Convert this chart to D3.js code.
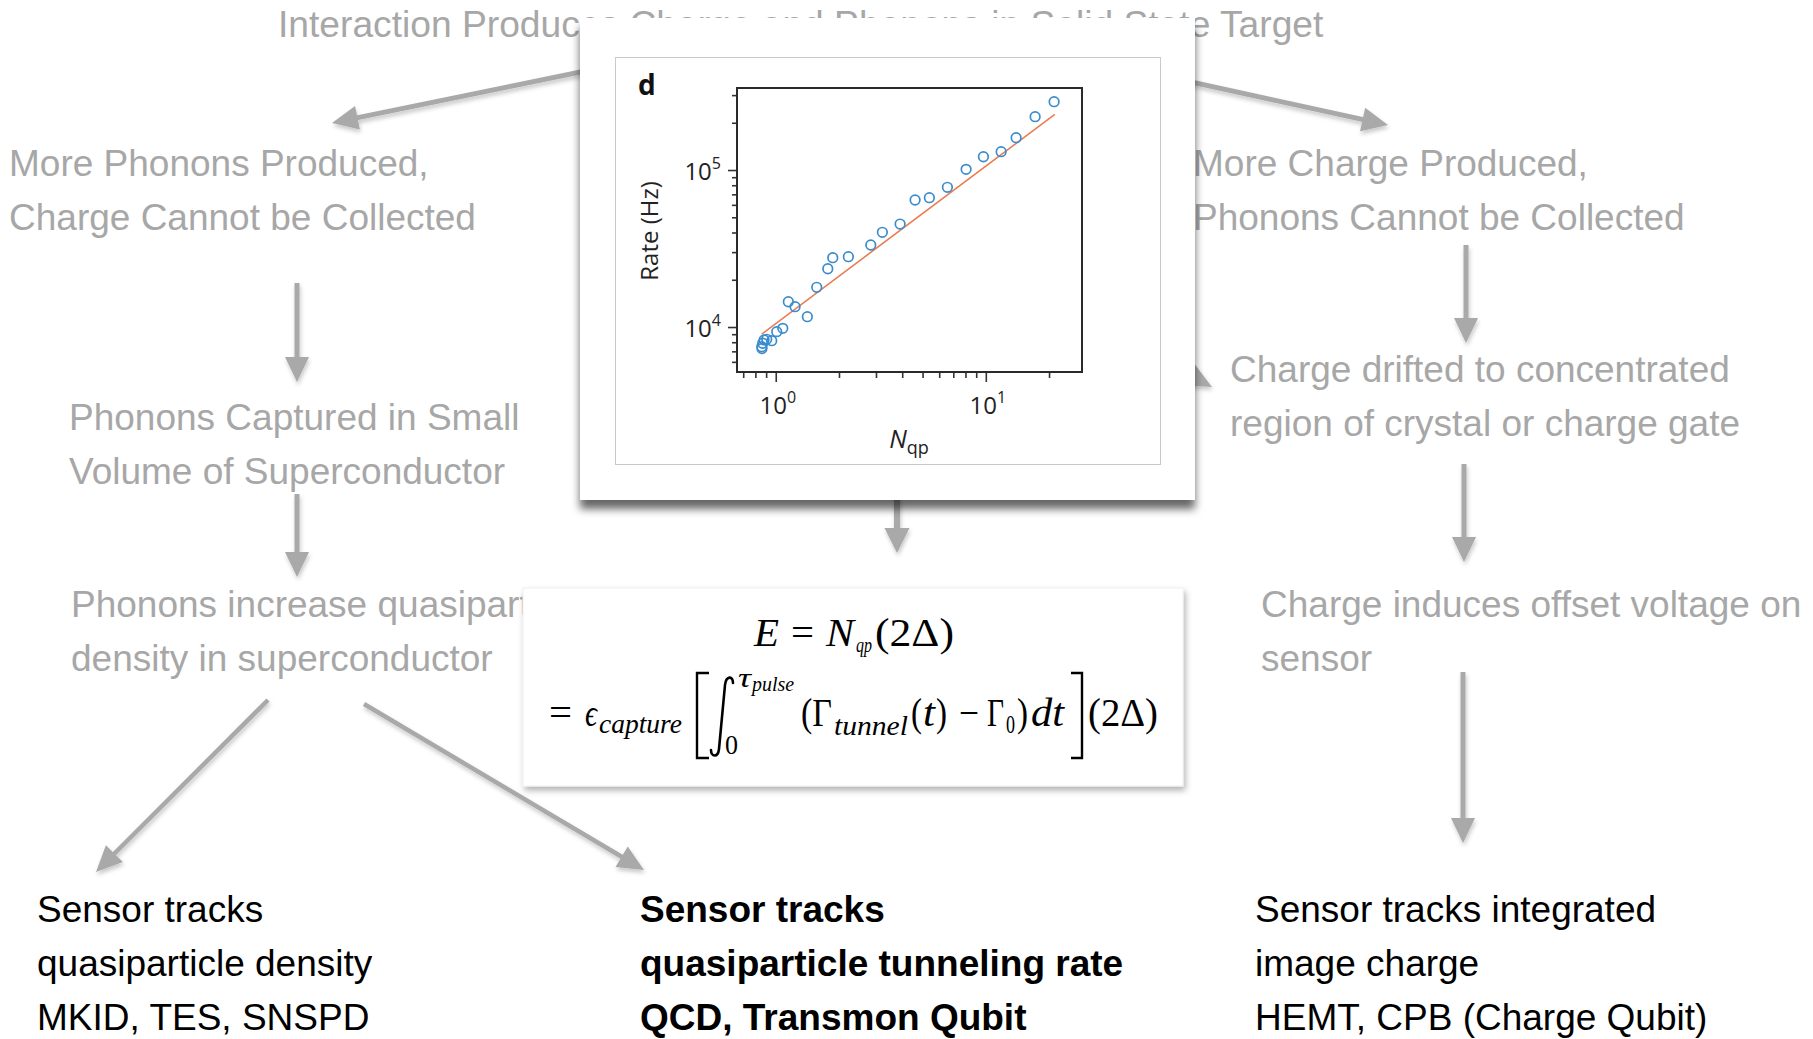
<!DOCTYPE html>
<html><head><meta charset="utf-8">
<script src="https://cdn.jsdelivr.net/npm/d3@7"></script>
<style>
html,body{margin:0;padding:0;background:#fff;}
svg{display:block;}
</style></head>
<body>
<svg id="fig" width="1813" height="1039"></svg>
<script>
// Measured quasiparticle number vs. tunneling rate (panel d)
const nqp  = [0.860, 0.858, 0.867, 0.880, 0.906, 0.957, 1.011, 1.080, 1.148, 1.236, 1.414, 1.567, 1.769, 1.868, 2.217, 2.834, 3.218, 3.908, 4.606, 5.387, 6.564, 8.058, 9.74, 11.83, 13.94, 17.17, 21.14];
const rate = [7300, 7490, 7880, 8270, 8350, 8180, 9340, 9810, 14490, 13470, 11630, 17900, 23510, 27630, 28040, 33290, 40110, 45290, 64420, 66630, 77610, 101000, 121500, 130800, 160600, 218600, 272300];
// linear fit endpoints
const fitNqp  = [0.858, 21.3];
const fitRate = [9020, 226000];
// axis ticks
const xTickValues = [0.7, 0.8, 0.9, 1, 2, 3, 4, 5, 6, 7, 8, 9, 10, 20];
const yTickValues = [6000, 7000, 8000, 9000, 1e4, 2e4, 3e4, 4e4, 5e4, 6e4, 7e4, 8e4, 9e4, 1e5, 2e5, 3e5];
const xMajor = [1, 10];
const yMajor = [1e4, 1e5];

// flow diagram text
const titleText = "Interaction Produces Charge and Phonons in Solid State Target";
const phononSteps = [
  ["More Phonons Produced,", "Charge Cannot be Collected"],
  ["Phonons Captured in Small", "Volume of Superconductor"],
  ["Phonons increase quasiparticle", "density in superconductor"]
];
const chargeSteps = [
  ["More Charge Produced,", "Phonons Cannot be Collected"],
  ["Charge drifted to concentrated", "region of crystal or charge gate"],
  ["Charge induces offset voltage on", "sensor"]
];
const sensorTypes = [
  ["Sensor tracks", "quasiparticle density", "MKID, TES, SNSPD"],
  ["Sensor tracks", "quasiparticle tunneling rate", "QCD, Transmon Qubit"],
  ["Sensor tracks integrated", "image charge", "HEMT, CPB (Charge Qubit)"]
];

const svg = d3.select("#fig");
const defs = svg.append("defs");
function dropShadow(id, dx, dy, sd, op) {
  const f = defs.append("filter").attr("id", id)
    .attr("x", "-10%").attr("y", "-10%").attr("width", "125%").attr("height", "135%");
  f.append("feDropShadow").attr("dx", dx).attr("dy", dy).attr("stdDeviation", sd)
    .attr("flood-color", "#000").attr("flood-opacity", op);
}
dropShadow("arrowShadow", 1, 3, 2, 0.22);
dropShadow("plotCardShadow", 0, 9, 4, 0.6);
dropShadow("eqCardShadow", 2, 4, 3, 0.3);

const SANS = "'Liberation Sans', Arial, Helvetica, sans-serif";
const GRAY = "#a7a7a7";
const FS = 37, LH = 54;

function block(lines, x, y, color, weight) {
  const t = svg.append("text").attr("font-family", SANS).attr("font-size", FS)
    .attr("fill", color).attr("font-weight", weight || "normal");
  lines.forEach((l, i) => t.append("tspan").attr("x", x).attr("y", y + i * LH).text(l));
}

// title (sits behind the plot card)
svg.append("text").attr("x", 278).attr("y", 37).attr("font-family", SANS)
  .attr("font-size", 37.2).attr("fill", GRAY).text(titleText);

const phononPos = [[9, 176], [69, 430], [71, 617]];
const chargePos = [[1193, 176], [1230, 382], [1261, 617]];
phononSteps.forEach((s, i) => block(s, phononPos[i][0], phononPos[i][1], GRAY));
chargeSteps.forEach((s, i) => block(s, chargePos[i][0], chargePos[i][1], GRAY));

// arrows
function arrow(x1, y1, x2, y2, w, L, W) {
  const dx = x2 - x1, dy = y2 - y1, len = Math.hypot(dx, dy);
  const ux = dx / len, uy = dy / len, nx = -uy, ny = ux;
  const bx = x2 - ux * L, by = y2 - uy * L;
  const g = svg.append("g").attr("filter", "url(#arrowShadow)");
  g.append("line").attr("x1", x1).attr("y1", y1).attr("x2", bx + ux * 2).attr("y2", by + uy * 2)
    .attr("stroke", "#a9a9a9").attr("stroke-width", w);
  g.append("path").attr("fill", "#a9a9a9")
    .attr("d", `M${x2},${y2}L${bx + nx * W / 2},${by + ny * W / 2}L${bx - nx * W / 2},${by - ny * W / 2}Z`);
}
arrow(639, 60, 332, 123, 5, 26, 24);
arrow(1100, 62, 1388, 125, 5, 26, 24);
arrow(297, 283, 297, 382, 5, 25, 24);
arrow(297, 494, 297, 577, 5, 25, 24);
arrow(268, 700, 96, 872, 4.5, 26, 24);
arrow(364, 704, 644, 870, 4.5, 26, 24);
arrow(897, 470, 897, 553, 6, 25, 25);
arrow(1466, 245, 1466, 343, 5, 25, 24);
arrow(1464, 464, 1464, 562, 5, 25, 24);
arrow(1463, 672, 1463, 843, 5, 25, 24);
arrow(1120, 338, 1212, 387, 5, 26, 24);

// sensor outcomes
const sensorPos = [[37, 922], [640, 922], [1255, 922]];
sensorTypes.forEach((s, i) => block(s, sensorPos[i][0], sensorPos[i][1], "#000", i === 1 ? "bold" : "normal"));

// ---- plot card ----
svg.append("rect").attr("x", 580).attr("y", 18).attr("width", 615).attr("height", 482)
  .attr("fill", "#fff").attr("filter", "url(#plotCardShadow)");
svg.append("rect").attr("x", 615.5).attr("y", 57.5).attr("width", 545).attr("height", 407)
  .attr("fill", "#fff").attr("stroke", "#c9c9c9").attr("stroke-width", 1);

const plot = { left: 737, top: 88, right: 1082, bottom: 372 };
const x = d3.scaleLog().domain([0.654, 28.7]).range([plot.left, plot.right]);
const y = d3.scaleLog().domain([5170, 333000]).range([plot.bottom, plot.top]);
const pg = svg.append("g").attr("color", "#333");

function ticks(axisFn, vals, size, tr) {
  pg.append("g").attr("transform", tr)
    .call(axisFn.tickValues(vals).tickSize(size).tickFormat(""))
    .call(s => s.select(".domain").remove())
    .call(s => s.selectAll("line").attr("stroke-width", 1.6));
}
ticks(d3.axisBottom(x), xTickValues.filter(v => !xMajor.includes(v)), 6, `translate(0,${plot.bottom})`);
ticks(d3.axisBottom(x), xMajor, 10, `translate(0,${plot.bottom})`);
ticks(d3.axisLeft(y), yTickValues.filter(v => !yMajor.includes(v)), 5, `translate(${plot.left},0)`);
ticks(d3.axisLeft(y), yMajor, 9, `translate(${plot.left},0)`);

pg.append("rect").attr("x", plot.left).attr("y", plot.top)
  .attr("width", plot.right - plot.left).attr("height", plot.bottom - plot.top)
  .attr("fill", "none").attr("stroke", "#2a2a2a").attr("stroke-width", 2);

const LBL = "'Open Sans', 'Noto Sans', sans-serif";
xMajor.forEach(v => {
  const t = pg.append("text").attr("x", x(v) + 2).attr("y", plot.bottom + 42)
    .attr("text-anchor", "middle").attr("font-family", LBL).attr("font-size", 24).attr("fill", "#222");
  t.append("tspan").text("10");
  t.append("tspan").attr("dy", -11).attr("font-size", 16).text(Math.round(Math.log10(v)));
});
yMajor.forEach(v => {
  const t = pg.append("text").attr("x", plot.left - 16).attr("y", y(v) + 10)
    .attr("text-anchor", "end").attr("font-family", LBL).attr("font-size", 24).attr("fill", "#222");
  t.append("tspan").text("10");
  t.append("tspan").attr("dy", -11).attr("font-size", 16).text(Math.round(Math.log10(v)));
});

// fit line
pg.append("path").datum(fitNqp.map((n, i) => [n, fitRate[i]]))
  .attr("fill", "none").attr("stroke", "#ea7d52").attr("stroke-width", 1.6)
  .attr("d", d3.line().x(d => x(d[0])).y(d => y(d[1])));
// measurements
pg.selectAll("circle.pt").data(nqp.map((n, i) => [n, rate[i]])).join("circle")
  .attr("class", "pt").attr("cx", d => x(d[0])).attr("cy", d => y(d[1])).attr("r", 4.8)
  .attr("fill", "none").attr("stroke", "#3a8ccd").attr("stroke-width", 1.7);

// axis titles and panel letter
pg.append("text").attr("transform", "translate(658,231) rotate(-90)").attr("text-anchor", "middle")
  .attr("font-family", LBL).attr("font-size", 24).attr("fill", "#222").text("Rate (Hz)");
const xt = pg.append("text").attr("x", 909).attr("y", 448).attr("text-anchor", "middle")
  .attr("font-family", LBL).attr("font-size", 25).attr("fill", "#222");
xt.append("tspan").attr("font-style", "italic").text("N");
xt.append("tspan").attr("dy", 6).attr("font-size", 18).text("qp");
pg.append("text").attr("x", 638).attr("y", 95).attr("font-family", LBL).attr("font-weight", "bold")
  .attr("font-size", 28).attr("fill", "#111").text("d");

// ---- equation card ----
svg.append("rect").attr("x", 523).attr("y", 588).attr("width", 660).attr("height", 198)
  .attr("fill", "#fff").attr("stroke", "#f0f0f0").attr("filter", "url(#eqCardShadow)");

const SERIF = "'Liberation Serif', 'DejaVu Serif', serif";
const eq = svg.append("g").attr("fill", "#000").attr("font-family", SERIF);
function m(str, x0, x1, yb, size, italic) {
  const t = eq.append("text").attr("x", x0).attr("y", yb).attr("font-size", size)
    .attr("font-style", italic ? "italic" : "normal").text(str);
  if (x1) t.attr("textLength", x1 - x0).attr("lengthAdjust", "spacingAndGlyphs");
  return t;
}
// E = N_qp (2Δ)
m("E", 754, 779, 646, 39, true);
m("=", 791, 814, 646, 39, false);
m("N", 826, 854, 646, 39, true);
m("qp", 856, 872, 652, 21, true);
m("(2Δ)", 875, 954, 646, 40, false);
// = ε_capture [ ∫_0^τpulse (Γ_tunnel(t) − Γ_0) dt ] (2Δ)
m("=", 549, 572, 726, 39, false);
m("ϵ", 585, 597, 726, 38, true);
m("capture", 599, 682, 733, 27, true);
m("τ", 738, 751, 687, 27, true);
m("pulse", 752, 794, 691, 20, true);
m("0", 725, 738, 754, 27, false);
m("(Γ", 801, 832, 726, 39, false);
m("tunnel", 834, 908, 735, 27, true);
m("(", 911, 922, 726, 39, false);
m("t", 923, 935, 726, 39, true);
m(")", 936, 947, 726, 39, false);
m("−", 959, 979, 726, 39, false);
m("Γ", 987, 1004, 726, 39, false);
m("0", 1006, 1015, 733, 26, false);
m(")", 1017, 1028, 726, 39, false);
m("dt", 1031, 1064, 726, 40, true);
m("(2Δ)", 1088, 1158, 726, 40, false);
// brackets and integral sign
eq.append("path").attr("fill", "none").attr("stroke", "#000").attr("stroke-width", 2.4)
  .attr("d", "M709,673H697V758H709");
eq.append("path").attr("fill", "none").attr("stroke", "#000").attr("stroke-width", 2.4)
  .attr("d", "M1071,673H1082V758H1071");
eq.append("path").attr("fill", "none").attr("stroke", "#000").attr("stroke-width", 2.6)
  .attr("stroke-linecap", "round")
  .attr("d", "M711,750C711,757 718,758 719,749L725,685C726,676 733,675 733,683");
</script>
</body></html>
